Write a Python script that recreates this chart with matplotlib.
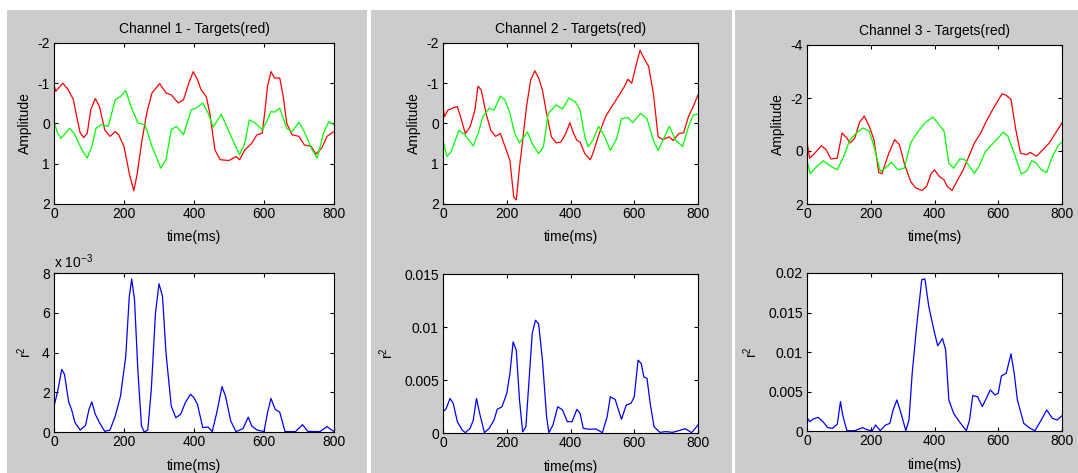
import numpy as np
import matplotlib
matplotlib.use("Agg")
import matplotlib.pyplot as plt
from matplotlib.patches import Rectangle
from matplotlib.ticker import FuncFormatter

plt.rcParams['font.family'] = ['Liberation Sans', 'DejaVu Sans']
plt.rcParams['font.size'] = 10
plt.rcParams['mathtext.fontset'] = 'custom'
plt.rcParams['mathtext.rm'] = 'Liberation Sans'
plt.rcParams['mathtext.it'] = 'Liberation Sans'

# ---------------- Channel 1 ----------------
ch1_red_t = [0, 5, 25, 40, 55, 65, 75, 85, 95, 105, 118, 130, 145, 160, 175, 185, 200, 215,
             228, 238, 250, 265, 280, 302, 320, 335, 355, 370, 385, 398, 410, 420, 435, 445,
             460, 475, 500, 520, 530, 545, 565, 580, 595, 603, 610, 620, 630, 645, 655, 665,
             680, 700, 715, 735, 748, 765, 780, 800]
ch1_red_v = [-0.96, -0.8, -1.0, -0.85, -0.6, -0.17, 0.24, 0.35, 0.24, -0.34, -0.62, -0.42,
             0.16, 0.32, 0.2, 0.28, 0.57, 1.24, 1.67, 1.24, 0.49, -0.26, -0.76, -0.99, -0.76,
             -0.71, -0.51, -0.59, -1.0, -1.29, -1.09, -0.84, -0.67, -0.26, 0.66, 0.9, 0.92,
             0.82, 0.9, 0.66, 0.49, 0.28, 0.24, -0.34, -0.92, -1.29, -1.13, -1.13, -0.67, 0.0,
             0.28, 0.32, 0.53, 0.57, 0.76, 0.61, 0.32, 0.2]
ch1_grn_t = [0, 10, 20, 45, 60, 80, 95, 108, 120, 135, 155, 175, 190, 205, 220, 240, 260,
             280, 305, 320, 335, 350, 370, 392, 405, 425, 440, 455, 478, 500, 530, 545, 558,
             575, 595, 610, 620, 630, 645, 665, 680, 700, 715, 735, 752, 770, 785, 800]
ch1_grn_v = [-0.05, 0.24, 0.37, 0.12, 0.28, 0.66, 0.86, 0.57, 0.12, 0.03, 0.07, -0.59, -0.67,
             -0.82, -0.42, -0.01, 0.03, 0.57, 1.11, 0.9, 0.16, 0.07, 0.28, -0.34, -0.38, -0.51,
             -0.26, 0.09, -0.23, 0.2, 0.78, 0.49, -0.09, -0.01, 0.16, -0.09, -0.3, -0.28, -0.38,
             0.12, 0.2, -0.03, 0.2, 0.61, 0.86, 0.24, -0.05, 0.03]
ch1_r2_t = [0, 10, 22, 30, 42, 50, 60, 75, 90, 100, 108, 118, 130, 145, 160, 175, 190, 205,
            215, 222, 230, 240, 250, 258, 268, 278, 290, 300, 310, 320, 335, 348, 362, 375,
            390, 400, 410, 425, 440, 452, 465, 480, 490, 505, 520, 540, 555, 565, 580, 600,
            610, 620, 632, 645, 660, 690, 710, 725, 760, 780, 800]
ch1_r2_v = [1.3, 2.0, 3.15, 2.9, 1.5, 1.14, 0.47, 0.1, 0.33, 1.14, 1.52, 0.89, 0.47, 0.03, 0.1,
            0.8, 1.8, 3.8, 6.8, 7.7, 6.66, 2.98, 0.3, 0.0, 0.1, 2.14, 6.0, 7.46, 6.83, 3.98, 1.3,
            0.72, 0.89, 1.47, 1.9, 1.72, 1.39, 0.22, 0.25, 0.02, 0.97, 2.28, 1.8, 0.55, 0.02,
            0.17, 0.75, 0.3, 0.1, 0.02, 0.97, 1.69, 1.14, 1.0, 0.02, 0.02, 0.37, 0.03, 0.02,
            0.27, 0.02]  # x 10^-3

# ---------------- Channel 2 ----------------
ch2_red_t = [0, 5, 15, 35, 45, 55, 70, 85, 100, 110, 120, 135, 150, 165, 180, 195, 210, 222,
             230, 240, 250, 262, 275, 288, 300, 312, 325, 340, 355, 370, 385, 398, 410, 420,
             430, 445, 462, 470, 490, 510, 530, 550, 570, 580, 592, 605, 618, 630, 645, 660,
             675, 690, 710, 722, 740, 755, 770, 785, 800]
ch2_red_v = [-0.42, -0.17, -0.33, -0.4, -0.42, -0.17, 0.25, 0.08, -0.33, -0.93, -0.83, -0.25,
             0.17, 0.32, 0.25, 0.58, 0.92, 1.83, 1.9, 1.08, 0.42, -0.42, -1.08, -1.31, -1.13,
             -0.83, -0.25, 0.33, 0.48, 0.46, 0.25, -0.02, 0.25, 0.42, 0.46, 0.75, 0.9, 0.75,
             0.25, -0.17, -0.43, -0.67, -0.93, -1.1, -1.0, -1.42, -1.82, -1.63, -1.42, -0.75,
             0.33, 0.4, 0.33, 0.42, 0.25, 0.23, -0.17, -0.42, -0.71]
ch2_grn_t = [0, 12, 25, 50, 70, 95, 110, 125, 145, 160, 180, 195, 210, 225, 240, 265, 280, 300,
             315, 330, 355, 375, 395, 415, 430, 445, 455, 470, 488, 505, 525, 545, 560, 580,
             595, 620, 640, 660, 675, 695, 710, 730, 752, 770, 785, 800]
ch2_grn_v = [0.42, 0.82, 0.71, 0.17, 0.29, 0.56, 0.25, -0.17, -0.38, -0.33, -0.68, -0.58,
             -0.25, 0.25, 0.48, 0.21, 0.5, 0.75, 0.58, -0.25, -0.46, -0.36, -0.63, -0.54, -0.33,
             0.33, 0.58, 0.42, 0.07, 0.29, 0.67, 0.37, -0.12, -0.15, -0.02, -0.25, -0.12, 0.42,
             0.67, 0.33, 0.07, 0.42, 0.57, 0.08, -0.21, -0.23]
ch2_r2_t = [0, 10, 22, 32, 45, 60, 70, 85, 95, 105, 115, 130, 145, 160, 170, 185, 200, 210,
            220, 230, 240, 250, 260, 270, 280, 290, 300, 312, 325, 332, 345, 360, 375, 390,
            405, 420, 430, 440, 460, 480, 500, 515, 525, 540, 560, 575, 590, 600, 612, 622,
            630, 640, 650, 662, 680, 700, 720, 740, 760, 780, 800]
ch2_r2_v = [2.0, 2.3, 3.26, 2.8, 1.07, 0.28, 0.03, 0.44, 1.22, 3.26, 1.85, 0.03, 0.44, 1.22,
            2.23, 2.48, 3.73, 5.62, 8.6, 7.8, 3.1, 0.1, 0.6, 5.0, 9.4, 10.64, 10.3, 6.87, 1.54,
            0.03, 0.75, 2.48, 2.17, 1.07, 1.07, 2.23, 1.85, 0.44, 0.35, 0.38, 0.03, 1.54, 3.42,
            3.17, 1.29, 2.64, 2.8, 3.42, 6.87, 6.56, 5.3, 5.15, 2.8, 0.6, 0.06, 0.13, 0.06,
            0.22, 0.41, 0.03, 0.75]  # x 10^-3

# ---------------- Channel 3 ----------------
ch3_red_t = [0, 8, 20, 45, 60, 75, 95, 110, 125, 135, 150, 165, 180, 195, 210, 225, 235, 255,
             275, 290, 305, 325, 340, 360, 375, 390, 400, 415, 430, 440, 455, 470, 490, 510,
             525, 545, 560, 580, 595, 612, 625, 640, 655, 670, 690, 700, 720, 740, 760, 780, 800]
ch3_red_v = [-0.37, 0.27, 0.14, -0.2, -0.05, 0.3, 0.27, -0.68, -0.49, -0.3, -0.49, -1.09,
             -1.32, -0.94, -0.43, 0.81, 0.86, 0.14, -0.43, -0.24, 0.46, 1.15, 1.38, 1.49, 1.34,
             0.84, 0.71, 0.96, 1.09, 1.34, 1.49, 1.15, 0.71, 0.14, -0.3, -0.68, -1.06, -1.51,
             -1.82, -2.16, -2.1, -1.95, -0.81, 0.08, 0.14, 0.05, 0.2, -0.05, -0.3, -0.68, -1.06]
ch3_grn_t = [0, 10, 25, 50, 75, 95, 115, 135, 155, 175, 195, 210, 230, 245, 265, 285, 305,
             325, 345, 370, 395, 410, 430, 445, 460, 480, 495, 525, 540, 560, 580, 600, 615,
             630, 650, 672, 690, 705, 720, 735, 752, 770, 790, 800]
ch3_grn_v = [0.35, 0.86, 0.65, 0.37, 0.58, 0.71, 0.2, -0.43, -0.68, -0.87, -0.75, -0.18, 0.77,
             0.65, 0.42, 0.71, 0.65, -0.3, -0.68, -1.06, -1.28, -1.06, -0.75, 0.46, 0.65, 0.29,
             0.33, 0.84, 0.58, 0.01, -0.24, -0.49, -0.71, -0.56, 0.08, 0.87, 0.75, 0.37, 0.46,
             0.71, 0.81, 0.2, -0.24, -0.33]
ch3_r2_t = [0, 8, 20, 35, 50, 65, 80, 95, 105, 112, 125, 150, 175, 190, 205, 215, 230, 245,
            260, 270, 282, 295, 310, 320, 330, 345, 360, 370, 382, 398, 410, 425, 435, 445,
            460, 480, 500, 510, 520, 535, 550, 560, 575, 590, 600, 610, 625, 640, 650, 660,
            680, 700, 715, 735, 752, 770, 785, 800]
ch3_r2_v = [1.73, 1.18, 1.52, 1.73, 1.18, 0.42, 0.34, 0.85, 3.72, 2.03, 0.04, 0.04, 0.42, 0.13,
            0.04, 0.76, 0.04, 0.72, 0.97, 2.66, 3.93, 2.24, 0.04, 1.4, 7.3, 13.66, 19.15, 19.24,
            15.77, 12.8, 10.78, 11.7, 10.27, 3.93, 2.24, 1.06, 0.04, 1.4, 4.48, 4.35, 3.09,
            3.93, 5.2, 4.57, 4.78, 6.98, 7.3, 9.77, 7.3, 3.93, 0.97, 0.34, 0.04, 1.4, 2.66, 1.6,
            1.4, 1.94]  # x 10^-3

channels = [
    dict(name="Channel 1 - Targets(red)", red=(ch1_red_t, ch1_red_v), grn=(ch1_grn_t, ch1_grn_v),
         r2=(ch1_r2_t, ch1_r2_v), amp_lim=(2, -2), amp_ticks=[-2, -1, 0, 1, 2],
         r2_lim=0.008, r2_ticks=[0, 0.002, 0.004, 0.006, 0.008], r2_scaled=True),
    dict(name="Channel 2 - Targets(red)", red=(ch2_red_t, ch2_red_v), grn=(ch2_grn_t, ch2_grn_v),
         r2=(ch2_r2_t, ch2_r2_v), amp_lim=(2, -2), amp_ticks=[-2, -1, 0, 1, 2],
         r2_lim=0.015, r2_ticks=[0, 0.005, 0.01, 0.015], r2_scaled=False),
    dict(name="Channel 3 - Targets(red)", red=(ch3_red_t, ch3_red_v), grn=(ch3_grn_t, ch3_grn_v),
         r2=(ch3_r2_t, ch3_r2_v), amp_lim=(2, -4), amp_ticks=[-4, -2, 0, 2],
         r2_lim=0.02, r2_ticks=[0, 0.005, 0.01, 0.015, 0.02], r2_scaled=False),
]

W, H = 1078, 473
fig = plt.figure(figsize=(W / 100, H / 100), dpi=100, facecolor='white')

# grey window backgrounds for the three figures
panels_px = [(7, 367), (371, 732), (735, 1078)]
for x0, x1 in panels_px:
    fig.patches.append(Rectangle((x0 / W, 0), (x1 - x0) / W, (H - 10) / H,
                                 transform=fig.transFigure, facecolor='#cccccc',
                                 edgecolor='none', zorder=-10))

# axes boxes in pixels: (left, right, top, bottom)
top_px = [(54, 334, 43, 204), (443, 698, 43, 204), (807, 1062, 45, 204)]
bot_px = [(54, 334, 273, 432), (443, 698, 274, 433), (807, 1062, 273, 431)]


def make_axes(box):
    l, r, t, b = box
    ax = fig.add_axes([l / W, 1 - b / H, (r - l) / W, (b - t) / H])
    ax.set_zorder(1)
    ax.set_facecolor('white')
    for s in ax.spines.values():
        s.set_linewidth(0.8)
    ax.tick_params(direction='in', top=True, right=True, length=3, width=0.8,
                   labelsize=10, pad=3)
    ax.tick_params(axis='x', pad=2)
    return ax


def fmt_g(v, pos):
    return '%g' % v


for ch, tb, bb in zip(channels, top_px, bot_px):
    ax = make_axes(tb)
    ax.plot(ch['red'][0], ch['red'][1], color='#ff0000', lw=0.9)
    ax.plot(ch['grn'][0], ch['grn'][1], color='#00ff00', lw=0.9)
    ax.set_xlim(0, 800)
    ax.set_xticks([0, 200, 400, 600, 800])
    ax.set_ylim(*ch['amp_lim'])
    ax.set_yticks(ch['amp_ticks'])
    ax.yaxis.set_major_formatter(FuncFormatter(fmt_g))
    ax.set_title(ch['name'], fontsize=10, pad=7)
    ax.set_xlabel('time(ms)', labelpad=7)
    ax.set_ylabel('Amplitude', labelpad=4)

    ax2 = make_axes(bb)
    vals = np.array(ch['r2'][1]) * 1e-3
    ax2.plot(ch['r2'][0], vals, color='#0000ff', lw=0.9)
    ax2.set_xlim(0, 800)
    ax2.set_xticks([0, 200, 400, 600, 800])
    ax2.set_ylim(0, ch['r2_lim'])
    ax2.set_yticks(ch['r2_ticks'])
    if ch['r2_scaled']:
        ax2.yaxis.set_major_formatter(FuncFormatter(lambda v, p: '%g' % round(v * 1e3, 6)))
        ax2.text(0.0, 1.015, r'x 10$^{-3}$', transform=ax2.transAxes,
                 ha='left', va='bottom', fontsize=10)
    else:
        ax2.yaxis.set_major_formatter(FuncFormatter(fmt_g))
    ax2.set_xlabel('time(ms)', labelpad=7)
    ax2.set_ylabel(r'r$^2$', labelpad=6)

fig.savefig('out.png', dpi=100, facecolor='white')
